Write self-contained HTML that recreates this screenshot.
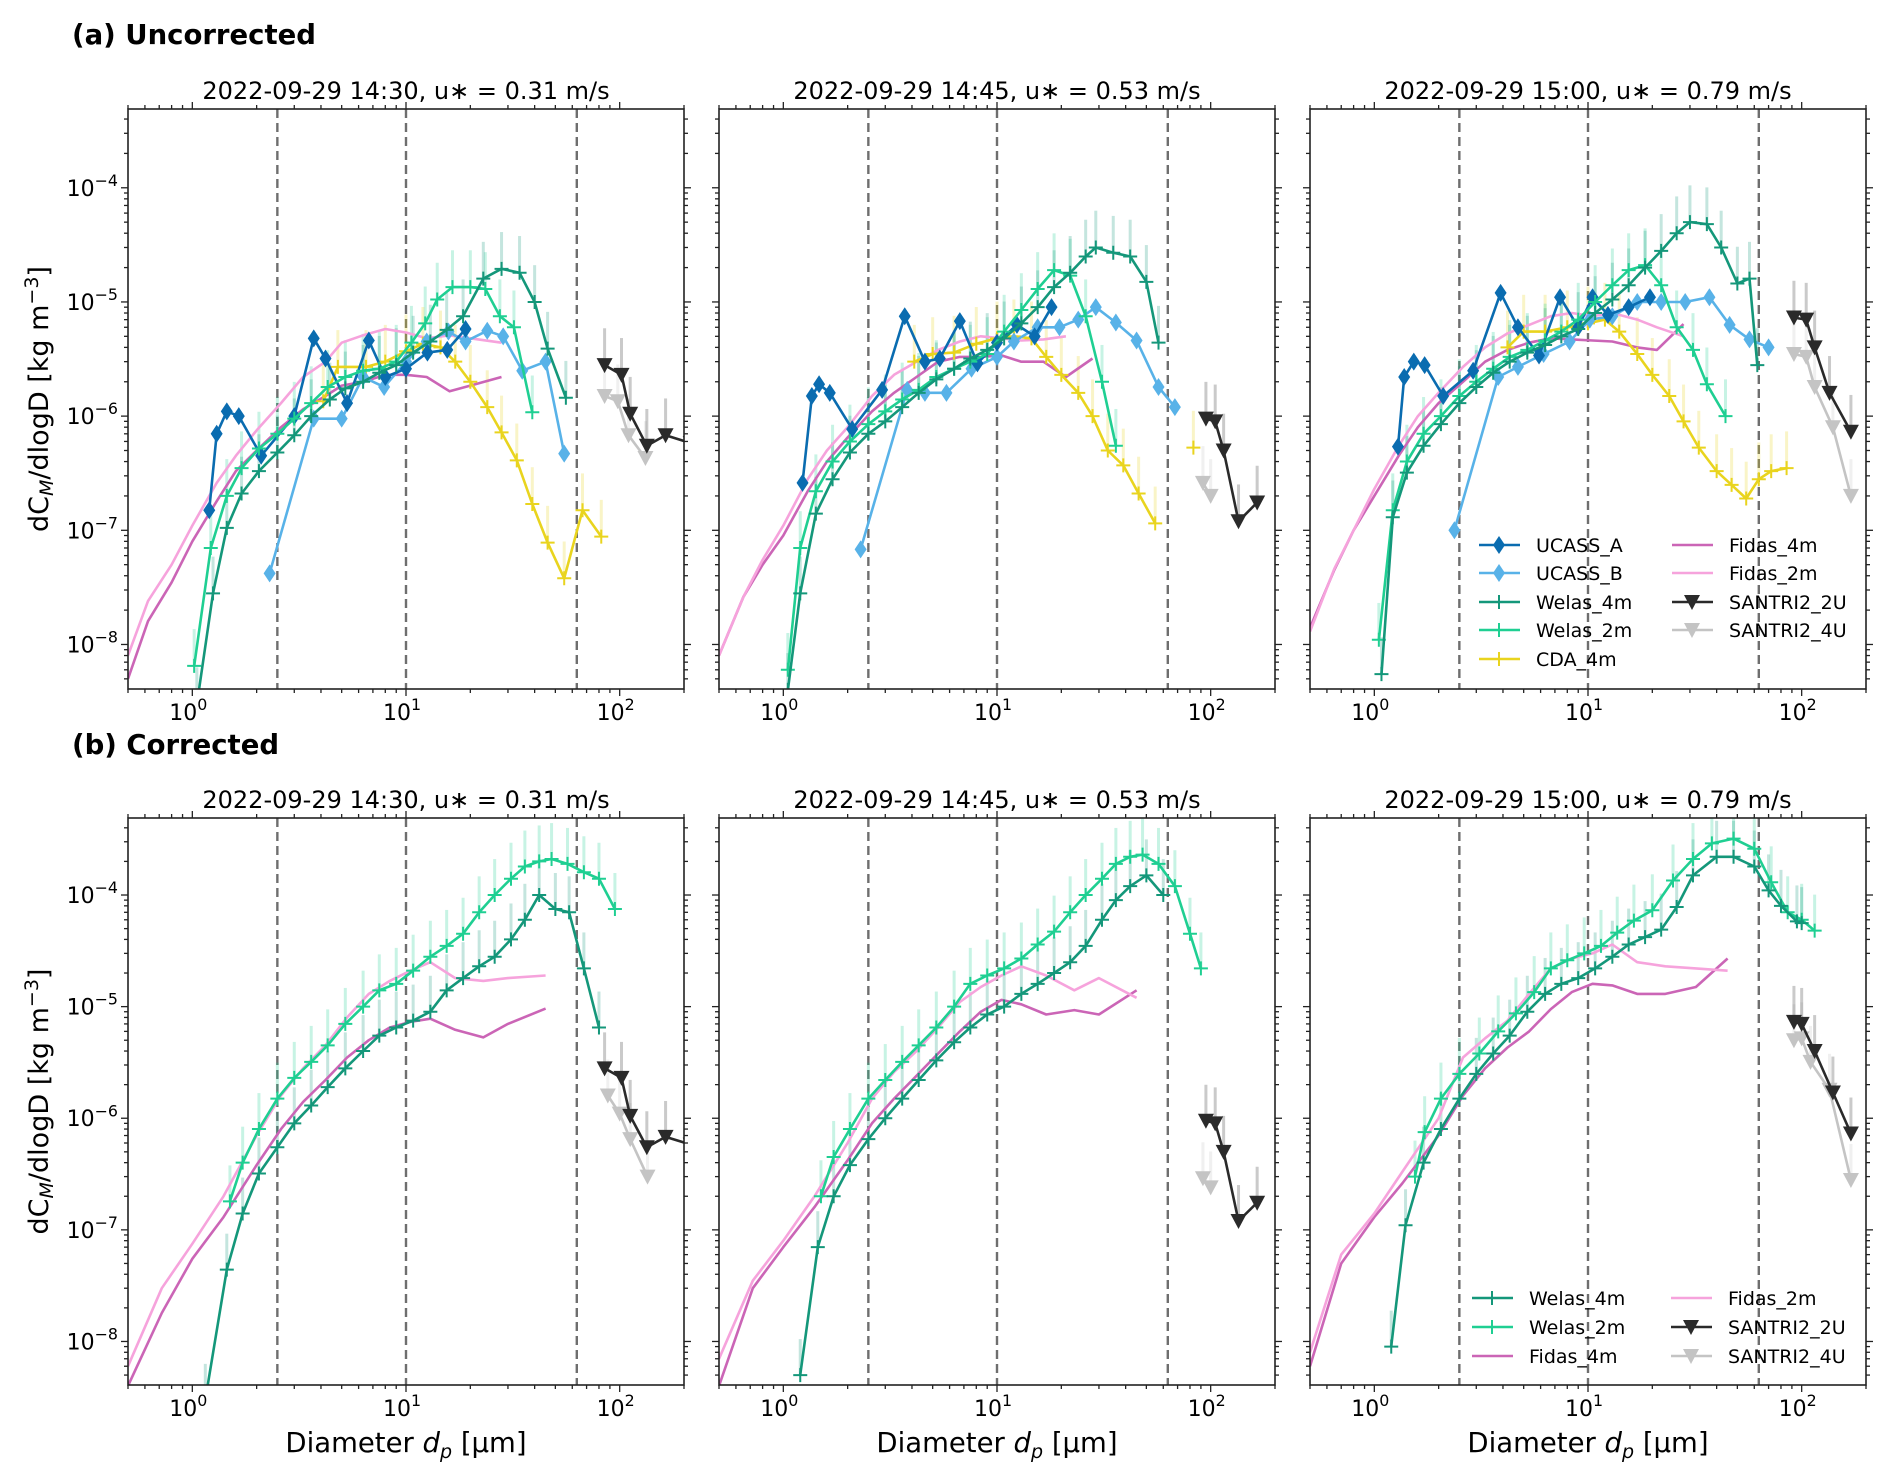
<!DOCTYPE html>
<html><head><meta charset="utf-8"><style>
body{margin:0;background:#fff;}
svg{display:block;font-family:"DejaVu Sans","Liberation Sans",sans-serif;}
</style></head><body>
<svg id="fig" width="1892" height="1480" viewBox="0 0 1892 1480" xmlns="http://www.w3.org/2000/svg">
<rect width="1892" height="1480" fill="#fff"/>
<text x="72" y="44" font-size="27.5" font-weight="bold">(a) Uncorrected</text>
<text x="72" y="754" font-size="27.5" font-weight="bold">(b) Corrected</text>
<g id="layer"></g>
</svg>
<script>
// ---------- data ----------
const panelTitles = ["2022-09-29 14:30, u\u2217 = 0.31 m/s","2022-09-29 14:45, u\u2217 = 0.53 m/s","2022-09-29 15:00, u\u2217 = 0.79 m/s"];
const xTickLabels = ["0","1","2"];
const yTickLabels = ["-4","-5","-6","-7","-8"];
const dashedLines = [2.5, 10, 63];

const a1_ucassA = [[1.2,1.5e-7],[1.3,7e-7],[1.45,1.1e-6],[1.65,1e-6],[2.1,4.5e-7],[3,1e-6],[3.7,4.8e-6],[4.2,3.2e-6],[5.3,1.3e-6],[6.7,4.6e-6],[8,2.2e-6],[10,2.6e-6],[12.6,3.6e-6],[15.6,3.8e-6],[19,5.8e-6]];
const a1_ucassB = [[2.3,4.2e-8],[3.7,9.5e-7],[5,9.5e-7],[6.3,2.2e-6],[7.9,1.8e-6],[10,3e-6],[12.5,4.5e-6],[15.8,5.5e-6],[19,4.5e-6],[24,5.6e-6],[28.5,5e-6],[35,2.5e-6],[45,3e-6],[55,4.7e-7]];
const a1_welas4 = [[1.05,3e-9],[1.25,2.8e-8],[1.45,1.05e-7],[1.7,2.1e-7],[2.05,3.3e-7],[2.5,4.8e-7],[3,6.8e-7],[3.6,1e-6],[4.4,1.4e-6],[5.2,1.75e-6],[6.3,2e-6],[7.5,2.4e-6],[9,2.8e-6],[10.8,3.6e-6],[13,4.5e-6],[15.5,5.7e-6],[18.5,7.5e-6],[23,1.6e-5],[28,1.95e-5],[34,1.8e-5],[40,1e-5],[46,3.9e-6],[56,1.45e-6]];
const a1_welas2 = [[1.02,6.5e-9],[1.22,7e-8],[1.45,2e-7],[1.7,3.5e-7],[2.05,5.2e-7],[2.5,7e-7],[3,9.5e-7],[3.6,1.3e-6],[4.3,1.8e-6],[5.2,2.2e-6],[6.3,2.5e-6],[7.5,2.6e-6],[9,3e-6],[10.6,4.4e-6],[12.3,6.5e-6],[14,1.05e-5],[16.5,1.35e-5],[20,1.35e-5],[23.5,1.3e-5],[27.5,7.5e-6],[32,6e-6],[39,1.08e-6]];
const a1_cda4 = [[4.1,1.35e-6],[4.8,2.7e-6],[6.5,2.7e-6],[8,3e-6],[10,3.7e-6],[12,4.3e-6],[14.5,4e-6],[17,3e-6],[20,2e-6],[24,1.2e-6],[28,7.2e-7],[33,4.1e-7],[39,1.7e-7],[46,7.8e-8],[55,3.8e-8],[67,1.5e-7],[82,8.8e-8]];
const a1_fidas4 = [[0.5,5e-9],[0.62,1.6e-8],[0.8,3.5e-8],[1.0,8e-8],[1.3,1.8e-7],[1.6,3.3e-7],[2.0,5e-7],[2.6,8e-7],[3.3,1.15e-6],[4.2,1.5e-6],[5,1.85e-6],[6.3,2e-6],[8,2.3e-6],[10,2.3e-6],[12.5,2.2e-6],[16,1.65e-6],[20,1.85e-6],[28,2.2e-6]];
const a1_fidas2 = [[0.5,8e-9],[0.62,2.4e-8],[0.8,5e-8],[1.0,1.1e-7],[1.3,2.6e-7],[1.6,4.5e-7],[2.0,7.5e-7],[2.6,1.3e-6],[3.3,2.2e-6],[4.2,3e-6],[5,4.4e-6],[6.3,5.1e-6],[8,5.8e-6],[10,5.4e-6],[12.5,4.8e-6],[16,5.1e-6],[20,4.8e-6],[28,4.4e-6]];
const a1_santri2 = [[85,2.8e-6],[102,2.3e-6],[112,1.05e-6],[134,5.5e-7],[164,6.8e-7],[215,5.8e-7]];
const a1_santri4 = [[85,1.5e-6],[98,1.35e-6],[110,6.8e-7],[132,4.3e-7]];

const a2_ucassA = [[1.23,2.6e-7],[1.36,1.5e-6],[1.47,1.9e-6],[1.65,1.6e-6],[2.1,7.7e-7],[2.9,1.7e-6],[3.7,7.5e-6],[4.6,3e-6],[5.4,3.2e-6],[6.7,6.8e-6],[8.1,2.9e-6],[10,4.4e-6],[12.4,6.3e-6],[15,5e-6],[18,9e-6]];
const a2_ucassB = [[2.3,6.8e-8],[3.8,1.7e-6],[4.6,1.6e-6],[5.8,1.6e-6],[7.6,2.6e-6],[10,3.3e-6],[12,4.5e-6],[15.5,6e-6],[19.6,6e-6],[24,7e-6],[29,9e-6],[36,6.6e-6],[45,4.6e-6],[57,1.8e-6],[68,1.2e-6]];
const a2_welas4 = [[1.05,4e-9],[1.2,2.8e-8],[1.42,1.4e-7],[1.7,2.8e-7],[2.05,4.8e-7],[2.5,7e-7],[3,9e-7],[3.6,1.2e-6],[4.3,1.6e-6],[5.2,2.1e-6],[6.3,2.6e-6],[7.5,3.2e-6],[9,3.8e-6],[10.8,4.8e-6],[13,6.5e-6],[15.5,9e-6],[18.5,1.35e-5],[22,1.8e-5],[26,2.5e-5],[29,3e-5],[35,2.7e-5],[42,2.5e-5],[50,1.5e-5],[57,4.4e-6]];
const a2_welas2 = [[1.05,6e-9],[1.2,7e-8],[1.42,2.2e-7],[1.7,4e-7],[2.05,6e-7],[2.5,8.5e-7],[3,1.1e-6],[3.6,1.4e-6],[4.3,1.7e-6],[5.2,2.2e-6],[6.3,2.6e-6],[7.5,3e-6],[9,3.5e-6],[10.8,5.5e-6],[13,8.5e-6],[15.5,1.3e-5],[18.5,1.9e-5],[22,1.7e-5],[26,7.5e-6],[31,2e-6],[36,5.5e-7]];
const a2_cda4 = [[4.1,3e-6],[5,3.5e-6],[6.3,3.6e-6],[8,4.3e-6],[10,4.8e-6],[12,5e-6],[14.5,4.8e-6],[17,3.3e-6],[20,2.3e-6],[24,1.6e-6],[28,1e-6],[33,5e-7],[39,3.7e-7],[46,2.1e-7],[55,1.15e-7]];
const a2_cda4b = [[83,5.3e-7]];
const a2_fidas4 = [[0.5,8e-9],[0.65,2.6e-8],[0.8,5e-8],[1,9e-8],[1.3,2.2e-7],[1.6,4e-7],[2,6.5e-7],[2.6,1.1e-6],[3.3,1.6e-6],[4.2,2.2e-6],[5.3,3e-6],[6.7,3.3e-6],[8.4,3.3e-6],[10.5,3.4e-6],[13,3e-6],[16.5,3e-6],[21,2.2e-6],[28,3.2e-6]];
const a2_fidas2 = [[0.5,8e-9],[0.65,2.6e-8],[0.8,5.5e-8],[1,1.1e-7],[1.3,2.8e-7],[1.6,5e-7],[2,8e-7],[2.6,1.5e-6],[3.3,2.3e-6],[4.2,3e-6],[5.3,3.8e-6],[6.7,4.5e-6],[8.4,5e-6],[10.5,4.8e-6],[13,4.6e-6],[16.5,4.7e-6],[21,5e-6]];
const a2_santri2 = [[95,9.5e-7],[105,9e-7],[115,5e-7],[135,1.2e-7],[165,1.75e-7]];
const a2_santri4 = [[92,2.6e-7],[100,2e-7]];

const a3_ucassA = [[1.29,5.4e-7],[1.38,2.2e-6],[1.53,3e-6],[1.72,2.8e-6],[2.1,1.5e-6],[2.9,2.5e-6],[3.9,1.2e-5],[4.7,6e-6],[5.9,3.4e-6],[7.4,1.1e-5],[9,6e-6],[10.5,1.1e-5],[12.4,7.7e-6],[15.5,9e-6],[19.5,1.1e-5]];
const a3_ucassB = [[2.37,1e-7],[3.8,2.2e-6],[4.7,2.7e-6],[6.2,3.5e-6],[8.2,4.5e-6],[10.2,7e-6],[13,7.5e-6],[17,1e-5],[22,1e-5],[28.5,1e-5],[37,1.1e-5],[46,6.3e-6],[57,4.7e-6],[70,4e-6]];
const a3_welas4 = [[1.08,5.5e-9],[1.22,1.3e-7],[1.42,3.2e-7],[1.7,5.5e-7],[2.05,8.5e-7],[2.5,1.3e-6],[3,1.8e-6],[3.6,2.4e-6],[4.3,3e-6],[5.2,3.6e-6],[6.3,4.2e-6],[7.5,5e-6],[9,5.8e-6],[10.8,8e-6],[13,1.05e-5],[15.5,1.4e-5],[18.5,2e-5],[22,2.8e-5],[26,4e-5],[30,5e-5],[36,4.8e-5],[42,3e-5],[50,1.45e-5],[57,1.6e-5],[62,2.8e-6]];
const a3_welas2 = [[1.05,1.1e-8],[1.22,1.5e-7],[1.42,4e-7],[1.7,7e-7],[2.05,1e-6],[2.5,1.5e-6],[3,2e-6],[3.6,2.6e-6],[4.3,3.3e-6],[5.2,3.8e-6],[6.3,4.6e-6],[7.5,5.5e-6],[9,7e-6],[10.8,1e-5],[13,1.4e-5],[15.5,1.9e-5],[18.5,2.1e-5],[22,1.4e-5],[26,6e-6],[31,3.8e-6],[36,1.9e-6],[44,1e-6]];
const a3_cda4 = [[4.2,4e-6],[5,5.5e-6],[6.3,5.5e-6],[8,6e-6],[10,6.5e-6],[12,7e-6],[14,5.5e-6],[17,3.5e-6],[20,2.3e-6],[24,1.5e-6],[28,9e-7],[33,5.3e-7],[40,3.3e-7],[47,2.5e-7],[55,1.9e-7],[63,2.8e-7],[72,3.3e-7],[85,3.5e-7]];
const a3_fidas4 = [[0.5,1.4e-8],[0.65,4.5e-8],[0.8,1e-7],[1,2e-7],[1.3,4.5e-7],[1.6,8e-7],[2,1.3e-6],[2.6,2e-6],[3.3,3e-6],[4.2,3.8e-6],[5.3,4.4e-6],[6.7,4.8e-6],[8.4,4.7e-6],[10.5,4.6e-6],[13,4.5e-6],[17,4e-6],[21,3.8e-6],[28,6.4e-6]];
const a3_fidas2 = [[0.5,1.3e-8],[0.65,4.6e-8],[0.8,1e-7],[1,2.3e-7],[1.3,5.5e-7],[1.6,1e-6],[2,1.6e-6],[2.6,2.7e-6],[3.3,4e-6],[4.2,5.3e-6],[5.3,6.3e-6],[6.7,7.5e-6],[8.4,8e-6],[10.5,7.5e-6],[13,8e-6],[17,7e-6],[21,6e-6],[28,5e-6]];
const a3_santri2 = [[92,7.3e-6],[105,7e-6],[115,4e-6],[135,1.6e-6],[170,7.3e-7]];
const a3_santri4 = [[92,3.5e-6],[105,3.3e-6],[115,1.8e-6],[140,8e-7],[170,2e-7]];

const b1_welas4 = [[1.15,3e-9],[1.45,4.4e-8],[1.72,1.4e-7],[2.05,3.2e-7],[2.5,5.5e-7],[3,9e-7],[3.6,1.3e-6],[4.3,1.9e-6],[5.2,2.8e-6],[6.3,4e-6],[7.5,5.5e-6],[9,6.5e-6],[10.8,7.5e-6],[13,9e-6],[15.5,1.4e-5],[18.5,1.8e-5],[22,2.3e-5],[26,2.8e-5],[31,4e-5],[36,6e-5],[42,1e-4],[50,7.5e-5],[58,7e-5],[68,2.2e-5],[80,6.5e-6]];
const b1_welas2 = [[1.5,1.8e-7],[1.72,4e-7],[2.05,8e-7],[2.5,1.5e-6],[3,2.3e-6],[3.6,3.2e-6],[4.3,4.5e-6],[5.2,7e-6],[6.3,1e-5],[7.5,1.4e-5],[9,1.6e-5],[10.8,2.1e-5],[13,2.8e-5],[15.5,3.5e-5],[18.5,4.5e-5],[22,7e-5],[26,1e-4],[31,1.4e-4],[36,1.8e-4],[42,2e-4],[48,2.1e-4],[57,1.9e-4],[68,1.6e-4],[80,1.4e-4],[95,7.5e-5]];
const b1_fidas4 = [[0.5,4e-9],[0.72,1.8e-8],[1,5.5e-8],[1.4,1.3e-7],[2,3.8e-7],[2.6,8e-7],[3.3,1.4e-6],[4.2,2.2e-6],[5.3,3.5e-6],[6.7,5e-6],[8.4,6.5e-6],[10.5,7.3e-6],[13,7.8e-6],[17,6.2e-6],[23,5.3e-6],[30,7e-6],[45,9.6e-6]];
const b1_fidas2 = [[0.5,6e-9],[0.72,3e-8],[1,7.5e-8],[1.4,2e-7],[2,7e-7],[2.6,1.6e-6],[3.3,2.8e-6],[4.2,4.5e-6],[5.3,8e-6],[6.7,1.3e-5],[8.4,1.7e-5],[10.5,2.1e-5],[13,2.5e-5],[17,1.8e-5],[23,1.7e-5],[30,1.8e-5],[45,1.9e-5]];
const b1_santri2 = [[85,2.8e-6],[102,2.3e-6],[112,1.05e-6],[134,5.5e-7],[164,6.8e-7],[215,5.8e-7]];
const b1_santri4 = [[88,1.6e-6],[100,1.1e-6],[112,6.5e-7],[135,3e-7]];

const b2_welas4 = [[1.2,5e-9],[1.45,7e-8],[1.72,2e-7],[2.05,3.8e-7],[2.5,6.5e-7],[3,1e-6],[3.6,1.5e-6],[4.3,2.2e-6],[5.2,3.3e-6],[6.3,4.8e-6],[7.5,6.5e-6],[9,8.5e-6],[10.8,1e-5],[13,1.3e-5],[15.5,1.6e-5],[18.5,2e-5],[22,2.5e-5],[26,3.5e-5],[31,6e-5],[36,9e-5],[42,1.2e-4],[50,1.5e-4],[60,1e-4]];
const b2_welas2 = [[1.5,2e-7],[1.72,4.5e-7],[2.05,8e-7],[2.5,1.5e-6],[3,2.2e-6],[3.6,3.2e-6],[4.3,4.5e-6],[5.2,6.5e-6],[6.3,1e-5],[7.5,1.6e-5],[9,1.9e-5],[10.8,2.2e-5],[13,2.7e-5],[15.5,3.6e-5],[18.5,4.7e-5],[22,7e-5],[26,1e-4],[31,1.4e-4],[36,1.9e-4],[42,2.2e-4],[48,2.3e-4],[57,1.9e-4],[68,1.2e-4],[80,4.5e-5],[90,2.2e-5]];
const b2_fidas4 = [[0.5,4e-9],[0.72,3e-8],[1,7e-8],[1.4,1.6e-7],[2,4.2e-7],[2.6,9e-7],[3.3,1.5e-6],[4.2,2.4e-6],[5.3,3.8e-6],[6.7,6e-6],[8.4,9e-6],[10.5,1.15e-5],[13,1.05e-5],[17,8.5e-6],[23,9.3e-6],[30,8.5e-6],[45,1.4e-5]];
const b2_fidas2 = [[0.5,7e-9],[0.72,3.5e-8],[1,8e-8],[1.4,2e-7],[2,6e-7],[2.6,1.5e-6],[3.3,2.6e-6],[4.2,4e-6],[5.3,6.5e-6],[6.7,1.1e-5],[8.4,1.5e-5],[10.5,1.9e-5],[13,2.3e-5],[17,1.9e-5],[23,1.4e-5],[30,1.8e-5],[45,1.2e-5]];
const b2_santri2 = [[95,9.5e-7],[105,9e-7],[115,5e-7],[135,1.2e-7],[165,1.75e-7]];
const b2_santri4 = [[92,2.9e-7],[100,2.4e-7]];

const b3_welas4 = [[1.2,9e-9],[1.4,1.1e-7],[1.7,4e-7],[2.05,8e-7],[2.5,1.5e-6],[3,2.5e-6],[3.6,3.8e-6],[4.3,5.5e-6],[5.2,9e-6],[6.3,1.3e-5],[7.5,1.6e-5],[9,1.8e-5],[10.8,2.2e-5],[13,2.8e-5],[15.5,3.6e-5],[18.5,4.2e-5],[22,4.9e-5],[26,7.8e-5],[31,1.5e-4],[40,2.2e-4],[48,2.2e-4],[60,1.8e-4],[70,1.1e-4],[80,8e-5],[95,5.8e-5],[100,5.6e-5]];
const b3_welas2 = [[1.55,3e-7],[1.72,7.5e-7],[2.05,1.5e-6],[2.5,2.5e-6],[3.1,3.8e-6],[3.8,6e-6],[4.6,8.7e-6],[5.6,1.35e-5],[6.7,2.2e-5],[8,2.6e-5],[9.6,3e-5],[11.5,3.5e-5],[13.7,4.6e-5],[16.4,5.9e-5],[20,7.3e-5],[25,1.35e-4],[31,2.1e-4],[38,2.9e-4],[48,3.2e-4],[60,2.6e-4],[72,1.3e-4],[86,7e-5],[100,6e-5],[115,4.8e-5]];
const b3_fidas4 = [[0.5,6e-9],[0.7,5e-8],[1,1.3e-7],[1.35,2.6e-7],[2,7e-7],[2.6,1.6e-6],[3.3,2.8e-6],[4.2,4.3e-6],[5.3,6e-6],[6.7,9.5e-6],[8.4,1.35e-5],[10.5,1.6e-5],[13,1.55e-5],[17,1.3e-5],[23,1.3e-5],[32,1.5e-5],[45,2.7e-5]];
const b3_fidas2 = [[0.5,8e-9],[0.7,6e-8],[1,1.4e-7],[1.35,3.3e-7],[2,1e-6],[2.6,3.5e-6],[3.3,5.2e-6],[4.2,7.5e-6],[5.3,1.3e-5],[6.7,2.2e-5],[8.4,2.7e-5],[10.5,3e-5],[13,3.6e-5],[17,2.5e-5],[23,2.3e-5],[32,2.2e-5],[45,2.1e-5]];
const b3_santri2 = [[92,7.3e-6],[100,7e-6],[115,4e-6],[140,1.7e-6],[170,7.3e-7]];
const b3_santri4 = [[92,5e-6],[100,5.2e-6],[110,3.2e-6],[135,1.8e-6],[170,2.8e-7]];

// ---------- rendering ----------
const NS="http://www.w3.org/2000/svg";
const layer=document.getElementById('layer');
const XMIN=Math.log10(0.5), XMAX=Math.log10(200), YTOP=-3.31, YBOT=-8.39;
const PW=556;
const colX=[128,719,1310];
const rows=[{top:109,bot:689},{top:818,bot:1385}];
const STY={
 ucassA:{c:'#0a6cb0',m:'d',name:'UCASS_A'},
 ucassB:{c:'#58b2e8',m:'d',name:'UCASS_B'},
 welas4:{c:'#14977a',m:'+',name:'Welas_4m',err:1},
 welas2:{c:'#1fcf92',m:'+',name:'Welas_2m',err:1},
 cda4:{c:'#e9d41e',m:'+',name:'CDA_4m',err:1},
 fidas4:{c:'#cb65b6',m:'',name:'Fidas_4m'},
 fidas2:{c:'#f6a3dc',m:'',name:'Fidas_2m'},
 santri2:{c:'#2a2a2a',m:'v',name:'SANTRI2_2U',err:1},
 santri4:{c:'#c4c4c4',m:'v',name:'SANTRI2_4U',err:1}
};
function el(tag,attrs,parent){const e=document.createElementNS(NS,tag);for(const k in attrs)e.setAttribute(k,attrs[k]);(parent||layer).appendChild(e);return e;}
function mkX(x0){return v=>x0+(Math.log10(v)-XMIN)/(XMAX-XMIN)*PW;}
function mkY(r){return v=>r.top+(YTOP-Math.log10(v))/(YTOP-YBOT)*(r.bot-r.top);}
function marker(g,type,x,y,c){
 if(type==='d'){const p=el('path',{d:`M${x},${y-9} L${x+6},${y} L${x},${y+9} L${x-6},${y} Z`,fill:c},g);}
 else if(type==='+'){const p=el('path',{d:`M${x-7},${y} H${x+7} M${x},${y-7} V${y+7}`,stroke:c,'stroke-width':2,fill:'none'},g);}
 else if(type==='v'){const p=el('path',{d:`M${x-8},${y-7} L${x+8},${y-7} L${x},${y+8} Z`,fill:c},g);}
}
function supText(parent,x,y,exp,size,anchor){
 const t=el('text',{x:x,y:y,'font-size':size,'text-anchor':anchor,fill:'#000'},parent);
 t.appendChild(document.createTextNode('10'));
 const s=el('tspan',{dy:-size*0.45,'font-size':size*0.72},t);
 s.textContent=exp.replace('-','\u2212');
 return t;
}
const panels=[
 {r:0,c:0,id:'a1',series:{ucassA:a1_ucassA,ucassB:a1_ucassB,welas4:a1_welas4,welas2:a1_welas2,cda4:a1_cda4,fidas4:a1_fidas4,fidas2:a1_fidas2,santri2:a1_santri2,santri4:a1_santri4}},
 {r:0,c:1,id:'a2',series:{ucassA:a2_ucassA,ucassB:a2_ucassB,welas4:a2_welas4,welas2:a2_welas2,cda4:a2_cda4,cda4b:a2_cda4b,fidas4:a2_fidas4,fidas2:a2_fidas2,santri2:a2_santri2,santri4:a2_santri4}},
 {r:0,c:2,id:'a3',series:{ucassA:a3_ucassA,ucassB:a3_ucassB,welas4:a3_welas4,welas2:a3_welas2,cda4:a3_cda4,fidas4:a3_fidas4,fidas2:a3_fidas2,santri2:a3_santri2,santri4:a3_santri4}},
 {r:1,c:0,id:'b1',series:{welas4:b1_welas4,welas2:b1_welas2,fidas4:b1_fidas4,fidas2:b1_fidas2,santri2:b1_santri2,santri4:b1_santri4}},
 {r:1,c:1,id:'b2',series:{welas4:b2_welas4,welas2:b2_welas2,fidas4:b2_fidas4,fidas2:b2_fidas2,santri2:b2_santri2,santri4:b2_santri4}},
 {r:1,c:2,id:'b3',series:{welas4:b3_welas4,welas2:b3_welas2,fidas4:b3_fidas4,fidas2:b3_fidas2,santri2:b3_santri2,santri4:b3_santri4}}
];
const order=['fidas4','fidas2','cda4','cda4b','ucassB','ucassA','welas2','welas4','santri4','santri2'];
panels.forEach(P=>{
 const x0=colX[P.c], R=rows[P.r], X=mkX(x0), Y=mkY(R);
 const g=el('g',{});
 
 
 const cp=el('clipPath',{id:'clip'+P.id},g);
 el('rect',{x:x0,y:R.top,width:PW,height:R.bot-R.top},cp);
 const title=el('text',{x:x0+PW/2,y:R.top-10,'font-size':24,'text-anchor':'middle'},g);
 title.textContent=panelTitles[P.c];
 
 
 const plot=el('g',{'clip-path':`url(#clip${P.id})`},g);
 dashedLines.forEach(v=>{
  const l=el('line',{x1:X(v),x2:X(v),y1:R.top,y2:R.bot,stroke:'#6e6e6e','stroke-width':2.4,'stroke-dasharray':'9,5'},plot);
  
  
 });
 order.forEach(k=>{
  const d=P.series[k]; if(!d) return;
  const st=STY[k==='cda4b'?'cda4':k]; if(!st.err) return;
  d.forEach(p=>{
   const l=el('line',{x1:X(p[0]),x2:X(p[0]),y1:Y(p[1]),y2:Y(p[1]*2.1),stroke:st.c,'stroke-width':3,'stroke-opacity':0.25},plot);
   
   
  });
 });
 order.forEach(k=>{
  const d=P.series[k]; if(!d) return;
  const st=STY[k==='cda4b'?'cda4':k];
  const sg=el('g',{},plot);
  
  
  const pts=d.map(p=>X(p[0]).toFixed(1)+','+Y(p[1]).toFixed(1)).join(' ');
  el('polyline',{points:pts,fill:'none',stroke:st.c,'stroke-width':2.6,'stroke-linejoin':'round'},sg);
  if(st.m) d.forEach(p=>marker(sg,st.m,X(p[0]),Y(p[1]),st.c));
 });
 const fr=el('rect',{x:x0,y:R.top,width:PW,height:R.bot-R.top,fill:'none',stroke:'#222','stroke-width':1.6},g);
 
 
 for(let e=-1;e<=2;e++)for(let m=1;m<=9;m++){
  const v=m*Math.pow(10,e); if(v<0.5||v>200) continue;
  const px=X(v), len=m===1?7:4;
  el('line',{x1:px,x2:px,y1:R.bot,y2:R.bot+len,stroke:'#222','stroke-width':1.3},g);
  el('line',{x1:px,x2:px,y1:R.top,y2:R.top-len,stroke:'#222','stroke-width':1.3},g);
 }
 xTickLabels.forEach(s=>{
  const t=supText(g,X(Math.pow(10,+s))-4,R.bot+31,s,22,'middle');
  
  
 });
 for(let e=-9;e<=-3;e++)for(let m=1;m<=9;m++){
  const v=m*Math.pow(10,e); const lv=Math.log10(v); if(lv<YBOT||lv>YTOP) continue;
  const py=Y(v), len=m===1?7:4;
  el('line',{x1:x0,x2:x0-len,y1:py,y2:py,stroke:'#222','stroke-width':1.3},g);
  el('line',{x1:x0+PW,x2:x0+PW+len,y1:py,y2:py,stroke:'#222','stroke-width':1.3},g);
 }
 if(P.c===0){
  yTickLabels.forEach(s=>{
   const t=supText(g,x0-10,Y(Math.pow(10,+s))+8,s,22,'end');
   
   
  });
  const cy=(R.top+R.bot)/2;
  const yl=el('text',{x:0,y:0,'font-size':27,'text-anchor':'middle',transform:`translate(48,${cy}) rotate(-90)`},g);
  
  
  yl.appendChild(document.createTextNode('dC'));
  const sub=el('tspan',{dy:5,'font-size':19,'font-style':'italic'},yl); sub.textContent='M';
  const t2=el('tspan',{dy:-5},yl); t2.textContent='/dlogD [kg m';
  const sp=el('tspan',{dy:-10,'font-size':19},yl); sp.textContent='\u22123';
  const t3=el('tspan',{dy:10},yl); t3.textContent=']';
 }
 if(P.r===1){
  const xl=el('text',{x:x0+PW/2,y:1452,'font-size':27.5,'text-anchor':'middle'},g);
  
  
  xl.appendChild(document.createTextNode('Diameter '));
  const i=el('tspan',{'font-style':'italic'},xl); i.textContent='d';
  const s=el('tspan',{dy:6,'font-size':19,'font-style':'italic'},xl); s.textContent='p';
  const r2=el('tspan',{dy:-6},xl); r2.textContent=' [\u00b5m]';
 }
});
function legend(id,entries,col1x,col2x,rowY,nrows){
 const g=el('g',{});
 
 
 entries.forEach((k,i)=>{
  const st=STY[k]; const cx=i<nrows?col1x:col2x; const y=rowY[i%nrows];
  const eg=el('g',{},g);
  
  
  el('line',{x1:cx,x2:cx+41,y1:y,y2:y,stroke:st.c,'stroke-width':2.6},eg);
  if(st.m) marker(eg,st.m,cx+20,y,st.c);
  const t=el('text',{x:cx+57,y:y+7,'font-size':19},eg); t.textContent=st.name;
 });
}
legend('legend-uncorrected',['ucassA','ucassB','welas4','welas2','cda4','fidas4','fidas2','santri2','santri4'],1479,1672,[545,573,602,630,659],5);
legend('legend-corrected',['welas4','welas2','fidas4','fidas2','santri2','santri4'],1472,1671,[1298,1327,1356],3);
</script>
</body></html>
